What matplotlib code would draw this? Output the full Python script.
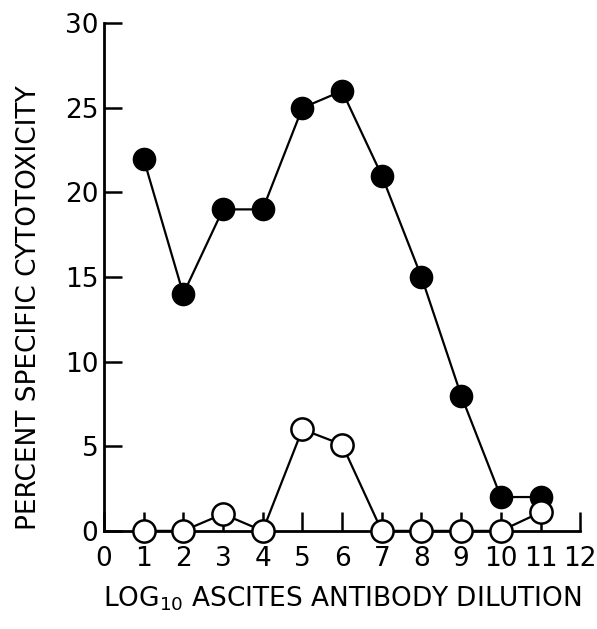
import matplotlib
matplotlib.use("Agg")
import matplotlib.pyplot as plt

# ----- DATA -----
dilution = [1, 2, 3, 4, 5, 6, 7, 8, 9, 10, 11]
filled_vals = [22, 14, 19, 19, 25, 26, 21, 15, 8, 2, 2]
open_vals = [0, 0, 1, 0, 6, 5.1, 0, 0, 0, 0, 1.1]
xticks = list(range(0, 13))
yticks = [0, 5, 10, 15, 20, 25, 30]

plt.rcParams['font.family'] = ['DejaVu Sans']

fig = plt.figure(figsize=(5.97, 6.29), dpi=100)
ax = fig.add_axes([0.174, 0.156, 0.798, 0.807])

ax.plot(dilution, filled_vals, color='black', lw=1.6, marker='o', ms=16,
        mfc='black', mec='black', clip_on=False, zorder=3)
ax.plot(dilution, open_vals, color='black', lw=1.6, marker='o', ms=16,
        mfc='white', mec='black', mew=1.8, clip_on=False, zorder=4)

ax.set_xlim(0, 12)
ax.set_ylim(0, 30)
ax.set_xticks(xticks)
ax.set_yticks(yticks)
ax.spines['top'].set_visible(False)
ax.spines['right'].set_visible(False)
for s in ['left', 'bottom']:
    ax.spines[s].set_linewidth(2)
ax.tick_params(axis='x', direction='in', length=14, width=1.8, labelsize=19, pad=11)
ax.tick_params(axis='y', direction='in', length=13, width=1.8, labelsize=19, pad=4)

ax.set_xlabel(r"LOG$_{10}$ ASCITES ANTIBODY DILUTION", fontsize=19, labelpad=9)
ax.set_ylabel("PERCENT SPECIFIC CYTOTOXICITY", fontsize=19)
ax.yaxis.set_label_coords(-0.13, 0.44)

fig.savefig("out.png", dpi=100)
